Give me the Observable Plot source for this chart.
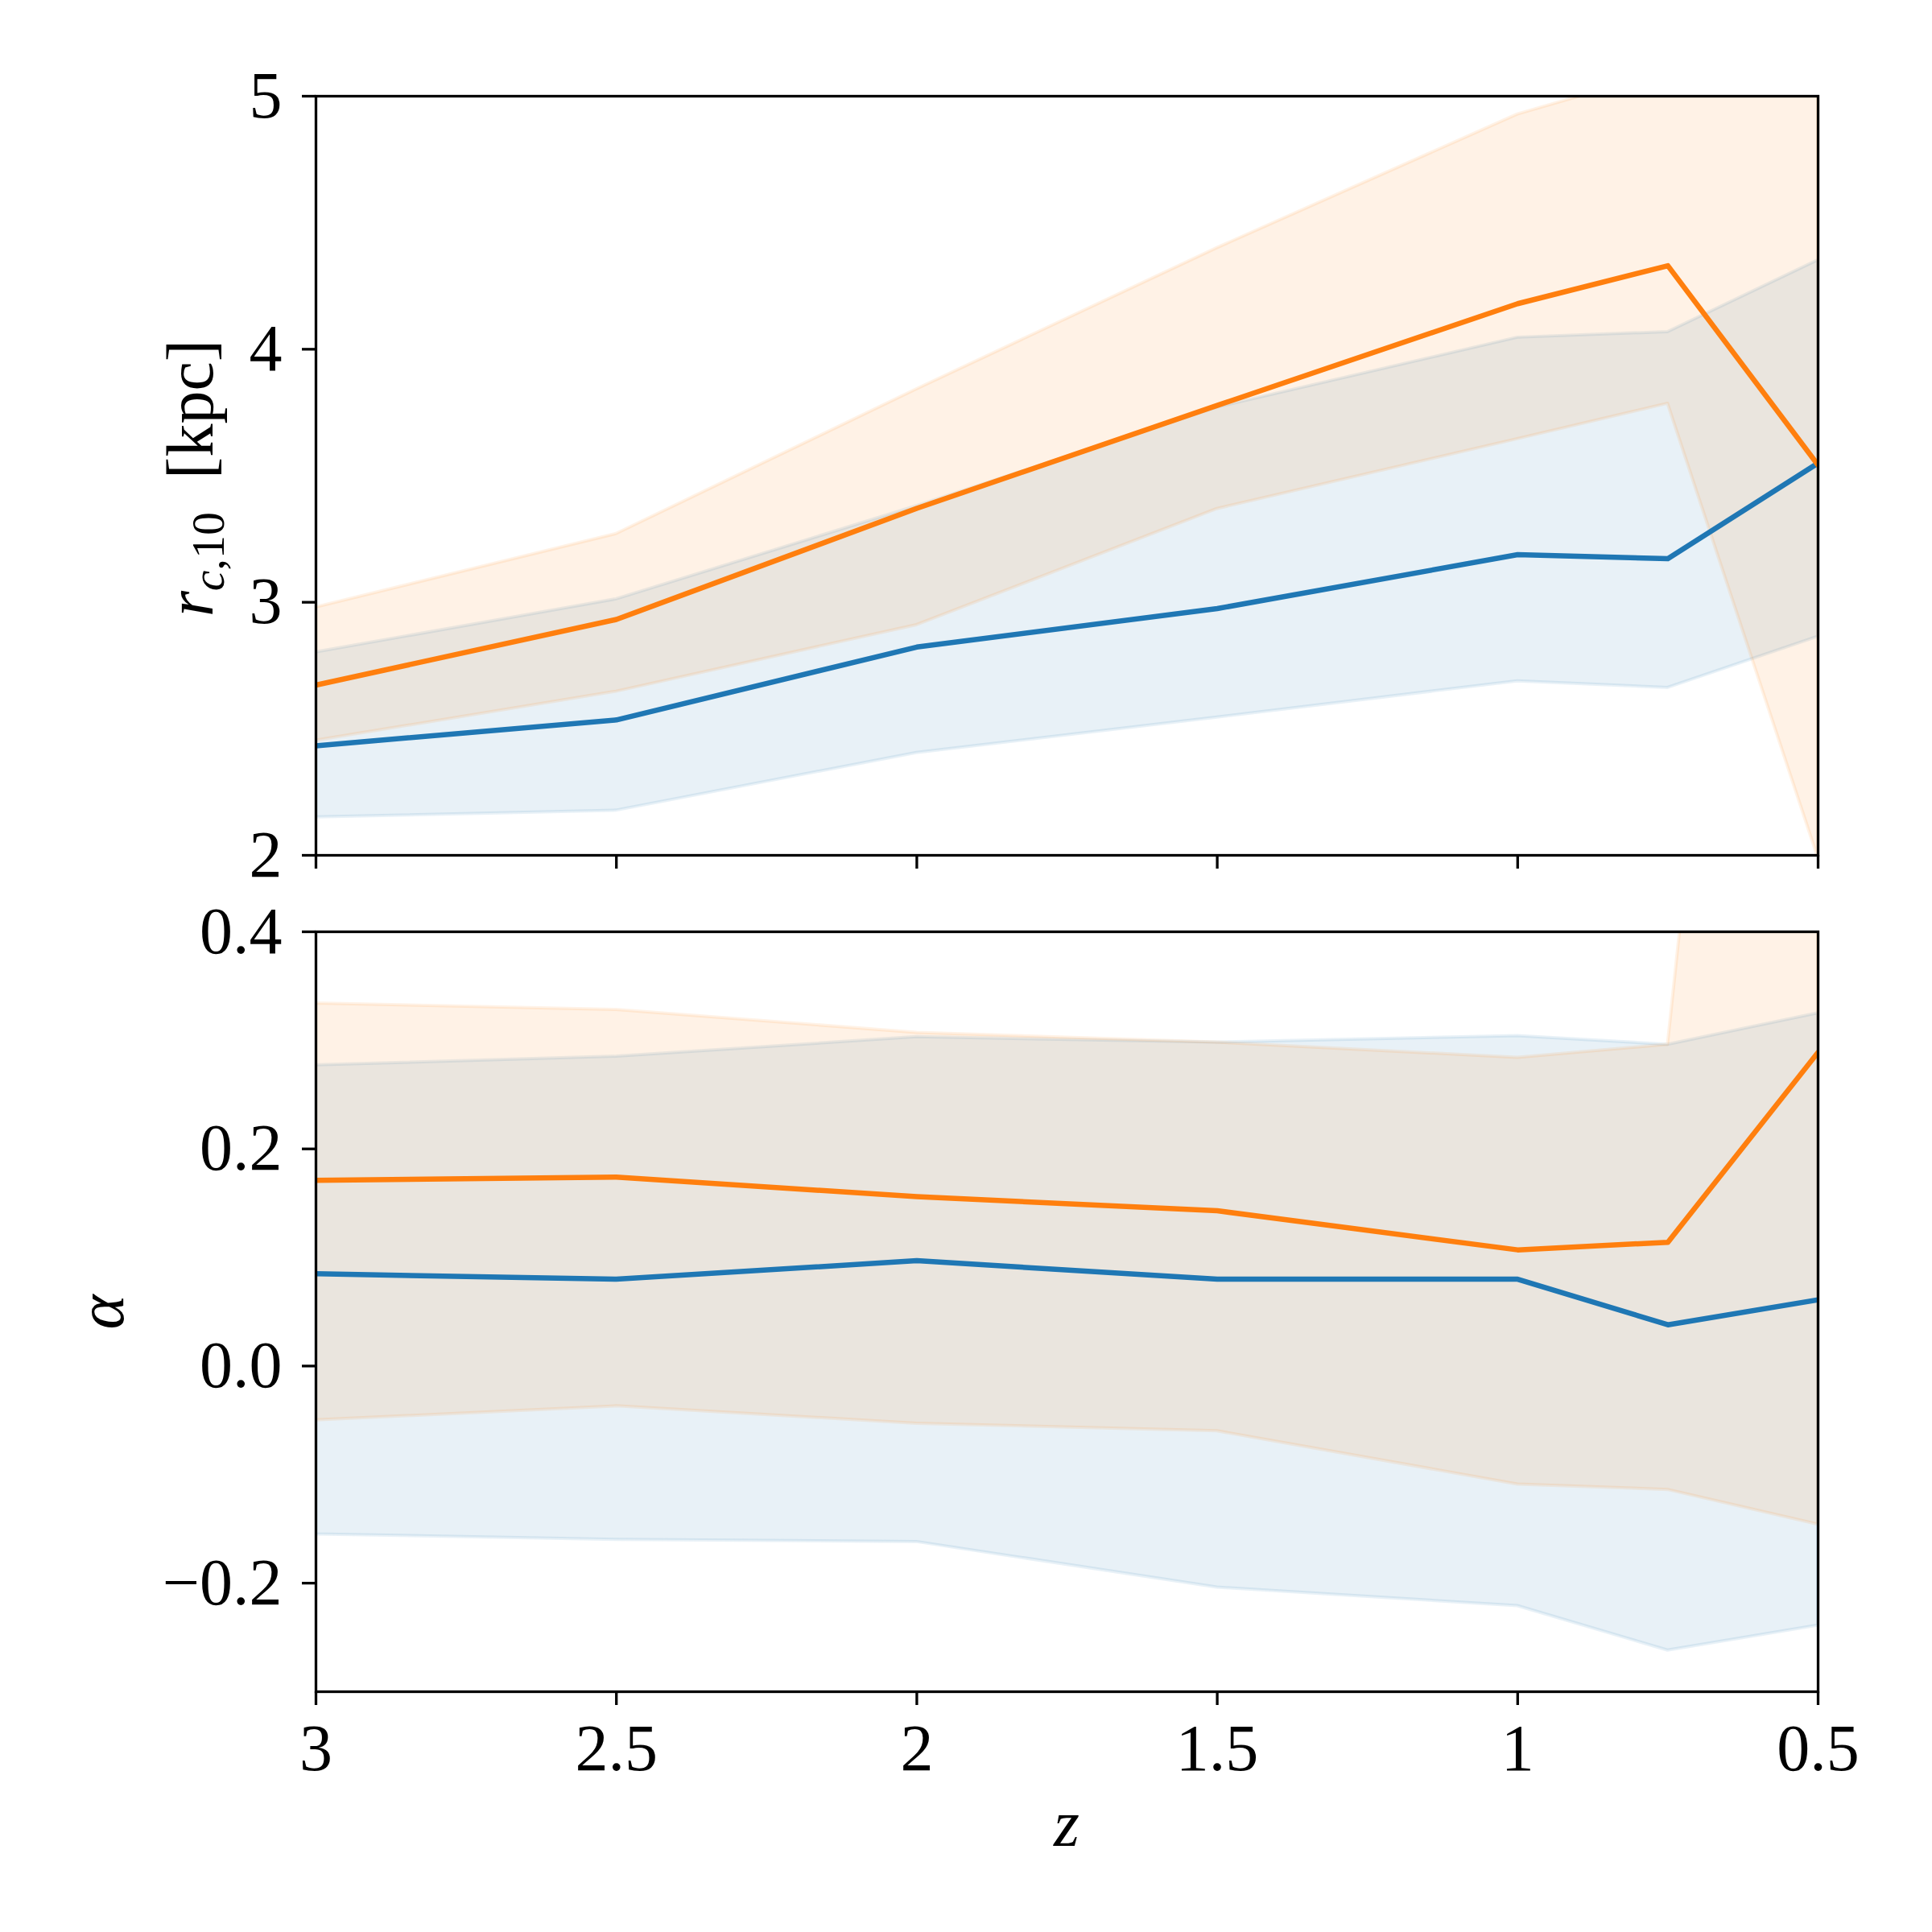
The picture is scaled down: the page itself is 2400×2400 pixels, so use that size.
<!DOCTYPE html>
<html>
<head>
<meta charset="utf-8">
<script src="https://cdn.jsdelivr.net/npm/d3@7"></script>
<script src="https://cdn.jsdelivr.net/npm/@observablehq/plot@0.6"></script>
<style>
  html, body { margin: 0; padding: 0; background: white; }
  #wrap { position: relative; width: 2400px; height: 2400px; background: white; }
  #wrap svg { position: absolute; left: 0; }
</style>
</head>
<body>
<div id="wrap"></div>
<script>
// ---- data ----
const zVals = [3, 2.5, 2, 1.5, 1, 0.75, 0.5];
const zTicks = [3, 2.5, 2, 1.5, 1, 0.5];
const rTicks = [2, 3, 4, 5];
const aTicks = [-0.2, 0.0, 0.2, 0.4];

// top panel: r_{c,10} [kpc]
const rBlueMed = [2.433, 2.535, 2.823, 2.975, 3.188, 3.172, 3.550];
const rBlueLo  = [2.150, 2.177, 2.405, 2.545, 2.688, 2.662, 2.864];
const rBlueHi  = [2.802, 3.012, 3.380, 3.770, 4.046, 4.068, 4.352];
const rOrMed   = [2.673, 2.932, 3.371, 3.778, 4.180, 4.330, 3.542];
const rOrLo    = [2.453, 2.647, 2.910, 3.369, 3.645, 3.785, 1.990];
const rOrHi    = [2.980, 3.270, 3.842, 4.400, 4.928, 5.100, 5.600];

// bottom panel: alpha
const aBlueMed = [0.085, 0.080, 0.097, 0.080, 0.080, 0.038, 0.061];
const aBlueLo  = [-0.155, -0.160, -0.162, -0.204, -0.221, -0.262, -0.239];
const aBlueHi  = [0.277, 0.285, 0.303, 0.298, 0.304, 0.296, 0.325];
const aOrMed   = [0.171, 0.174, 0.156, 0.143, 0.107, 0.114, 0.289];
const aOrLo    = [-0.050, -0.037, -0.053, -0.060, -0.109, -0.114, -0.146];
const aOrHi    = [0.334, 0.328, 0.307, 0.298, 0.284, 0.296, 1.600];

const BLUE = "#1f77b4";
const ORANGE = "#ff7f0e";
const FONT = "'Liberation Serif', 'Times New Roman', serif";

function rows(med, lo, hi) {
  return zVals.map((z, i) => ({z, med: med[i], lo: lo[i], hi: hi[i]}));
}

function bandMarks(data, color) {
  return Plot.areaY(data, {
    x: "z", y1: "lo", y2: "hi",
    fill: color, fillOpacity: 0.1,
    stroke: color, strokeOpacity: 0.1, strokeWidth: 4,
    clip: true
  });
}
function lineMark(data, color) {
  return Plot.lineY(data, {
    x: "z", y: "med", stroke: color, strokeWidth: 6.5,
    strokeLinejoin: "round", clip: true
  });
}

const LEFT = 392, RIGHT = 2258;

function panel({height, top, bottom, yDomain, yTicks, yFormat, blue, orange, xLabels}) {
  return Plot.plot({
    width: 2400,
    height,
    marginLeft: LEFT,
    marginRight: 2400 - RIGHT,
    marginTop: top,
    marginBottom: bottom,
    style: {fontFamily: FONT, fontSize: "82px", color: "black", background: "transparent", overflow: "visible"},
    x: {domain: [3, 0.5], label: null},
    y: {domain: yDomain, label: null},
    marks: [
      bandMarks(blue, BLUE),
      bandMarks(orange, ORANGE),
      lineMark(blue, BLUE),
      lineMark(orange, ORANGE),
      Plot.frame({stroke: "black", strokeWidth: 3.3}),
      Plot.axisX({
        anchor: "bottom", ticks: zTicks, tickSize: 17, tickPadding: 22,
        strokeWidth: 3.3, fontSize: 82,
        tickFormat: xLabels ? (d => String(d)) : (() => ""),
        label: null
      }),
      Plot.axisY({
        anchor: "left", ticks: yTicks, tickSize: 17, tickPadding: 25,
        strokeWidth: 3.3, fontSize: 82, tickFormat: yFormat, label: null
      })
    ]
  });
}

const wrap = document.getElementById("wrap");

// top panel
const topSvg = panel({
  height: 1110, top: 119, bottom: 1110 - 1062,
  yDomain: [2, 5], yTicks: rTicks, yFormat: d => String(d),
  blue: rows(rBlueMed, rBlueLo, rBlueHi),
  orange: rows(rOrMed, rOrLo, rOrHi),
  xLabels: false
});
topSvg.style.top = "0px";
wrap.appendChild(topSvg);

// y label top: r_{c,10} [kpc]
{
  const t = d3.select(topSvg).append("text")
    .attr("transform", "translate(264,594) rotate(-90)")
    .attr("text-anchor", "middle")
    .attr("font-family", FONT)
    .attr("font-size", 82)
    .attr("fill", "black");
  t.append("tspan").attr("font-style", "italic").text("r");
  t.append("tspan").attr("font-size", 58).attr("dy", 14).attr("font-style", "italic").text("c");
  t.append("tspan").attr("font-size", 58).text(",10");
  t.append("tspan").attr("dy", -14).text("\u00a0\u00a0[kpc]");
}

// bottom panel
const OFF = 1110;
const botSvg = panel({
  height: 1290, top: 1157 - OFF, bottom: 1290 - (2101 - OFF),
  yDomain: [-0.3, 0.4], yTicks: aTicks, yFormat: d3.format(".1f"),
  blue: rows(aBlueMed, aBlueLo, aBlueHi),
  orange: rows(aOrMed, aOrLo, aOrHi),
  xLabels: true
});
botSvg.style.top = OFF + "px";
wrap.appendChild(botSvg);

// y label bottom: alpha
d3.select(botSvg).append("text")
  .attr("transform", `translate(153,${1630 - OFF}) rotate(-90)`)
  .attr("text-anchor", "middle")
  .attr("font-family", FONT)
  .attr("font-size", 82)
  .attr("font-style", "italic")
  .attr("fill", "black")
  .text("\u03b1");

// x label: z
d3.select(botSvg).append("text")
  .attr("x", (LEFT + RIGHT) / 2)
  .attr("y", 2293 - OFF)
  .attr("text-anchor", "middle")
  .attr("font-family", FONT)
  .attr("font-size", 82)
  .attr("font-style", "italic")
  .attr("fill", "black")
  .text("z");
</script>
</body>
</html>
